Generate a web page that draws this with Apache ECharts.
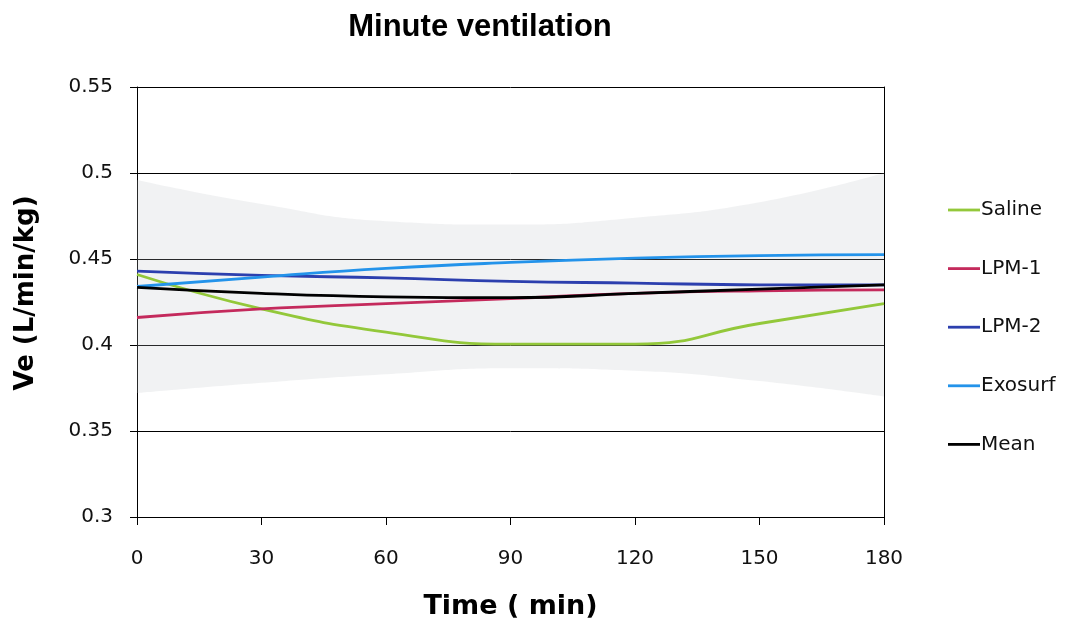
<!DOCTYPE html>
<html>
<head>
<meta charset="utf-8">
<title>Minute ventilation</title>
<script src="https://cdn.jsdelivr.net/npm/echarts@6/dist/echarts.min.js"></script>
<style>
  html, body { margin: 0; padding: 0; background: #fff; }
  #chart { width: 1075px; height: 626px; }
</style>
</head>
<body>
<div id="chart"></div>
<script>
// 时间点 (min)，等间隔，用类目轴
const times = ['0', '30', '60', '90', '120', '150', '180'];

// 各组数据 Ve (L/min/kg)
const saline  = [0.441, 0.421, 0.4075, 0.4005, 0.4005, 0.4125, 0.424];
const lpm1    = [0.416, 0.421, 0.424, 0.427, 0.430, 0.4315, 0.432];
const lpm2    = [0.443, 0.4405, 0.439, 0.437, 0.436, 0.435, 0.435];
const exosurf = [0.434, 0.4395, 0.4445, 0.448, 0.4505, 0.452, 0.4525];
const meanVe  = [0.4335, 0.430, 0.428, 0.4275, 0.430, 0.4325, 0.435];

// 灰色范围带 (上下界)
const bandUpper = [0.496, 0.482, 0.472, 0.470, 0.474, 0.483, 0.500];
const bandLower = [0.372, 0.378, 0.383, 0.3865, 0.385, 0.379, 0.370];

// y 轴刻度
const yTicks = [0.3, 0.35, 0.4, 0.45, 0.5, 0.55];

const chart = echarts.init(document.getElementById('chart'));

const tickFont = { fontFamily: 'DejaVu Sans', fontSize: 20, color: '#111' };

const lineSeries = (name, data, color) => ({
  name,
  type: 'line',
  data,
  smooth: 0.5,
  symbol: 'none',
  showSymbol: false,
  lineStyle: { color, width: 2.8 },
  itemStyle: { color },
  z: 3
});

const option = {
  animation: false,
  backgroundColor: '#fff',
  title: {
    text: 'Minute ventilation',
    left: 480,
    top: 12,
    padding: 0,
    textAlign: 'center',
    textStyle: {
      fontFamily: 'Liberation Sans',
      fontWeight: 'bold',
      fontSize: 31,
      color: '#000'
    }
  },
  grid: { left: 137, right: 191, top: 87, bottom: 109 },
  legend: {
    orient: 'vertical',
    left: 943,
    top: 195,
    icon: 'rect',
    itemWidth: 32,
    itemHeight: 2.8,
    itemGap: 38.6,
    data: ['Saline', 'LPM-1', 'LPM-2', 'Exosurf', 'Mean'],
    textStyle: { fontFamily: 'DejaVu Sans', fontSize: 20, color: '#111', padding: [0, 0, 0, -4] }
  },
  xAxis: {
    type: 'category',
    data: times,
    boundaryGap: false,
    name: 'Time ( min)',
    nameLocation: 'middle',
    nameGap: 76,
    nameTextStyle: { fontFamily: 'DejaVu Sans', fontWeight: 'bold', fontSize: 27, color: '#000' },
    axisLine: { show: true, lineStyle: { color: '#000', width: 1 } },
    axisTick: { show: true, length: 8, interval: 0, lineStyle: { color: '#000' } },
    axisLabel: Object.assign({ margin: 32, interval: 0 }, tickFont),
    splitLine: { show: false },
    splitArea: { show: false }
  },
  yAxis: [{
    type: 'value',
    min: yTicks[0],
    max: yTicks[yTicks.length - 1],
    interval: 0.05,
    name: 'Ve (L/min/kg)',
    nameLocation: 'middle',
    nameGap: 98,
    nameTextStyle: {
      fontFamily: 'DejaVu Sans', fontWeight: 'bold', fontSize: 26, color: '#000',
      padding: [0, 0, 0, 18]
    },
    axisLine: { show: true, lineStyle: { color: '#000', width: 1 } },
    axisTick: { show: true, length: 7, lineStyle: { color: '#000' } },
    axisLabel: Object.assign({
      margin: 24,
      formatter: v => String(+v.toFixed(2))
    }, tickFont),
    splitLine: { show: true, lineStyle: { color: '#000', width: 1 } },
    splitArea: { show: false }
  }, {
    // 右边框
    type: 'value',
    position: 'right',
    min: yTicks[0],
    max: yTicks[yTicks.length - 1],
    interval: 0.05,
    axisLine: { show: true, lineStyle: { color: '#000', width: 1 } },
    axisTick: { show: false },
    axisLabel: { show: false },
    splitLine: { show: false },
    splitArea: { show: false }
  }],
  series: [
    {
      name: 'bandLower',
      type: 'line',
      data: bandLower,
      stack: 'band',
      smooth: 0.5,
      symbol: 'none',
      lineStyle: { opacity: 0 },
      z: 1
    },
    {
      name: 'bandRange',
      type: 'line',
      data: bandUpper.map((u, i) => u - bandLower[i]),
      stack: 'band',
      smooth: 0.5,
      symbol: 'none',
      lineStyle: { opacity: 0 },
      areaStyle: { color: 'rgba(190,192,198,0.3)' },
      z: 1
    },
    lineSeries('Saline', saline, '#93C83A'),
    lineSeries('LPM-1', lpm1, '#C42A5C'),
    lineSeries('LPM-2', lpm2, '#2C3FAE'),
    lineSeries('Exosurf', exosurf, '#2393EA'),
    lineSeries('Mean', meanVe, '#000000')
  ]
};

chart.setOption(option);
</script>
</body>
</html>
